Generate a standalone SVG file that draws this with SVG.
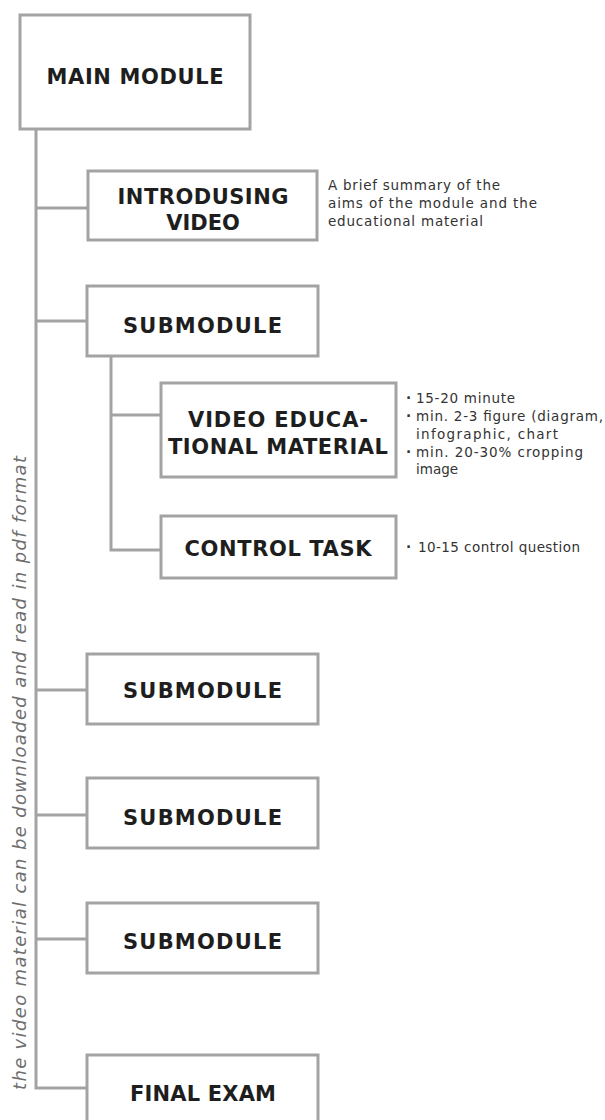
<svg xmlns="http://www.w3.org/2000/svg" width="605" height="1120" viewBox="0 0 605 1120">
<style>
.box{fill:#fff;stroke:#a3a3a3;stroke-width:3}
.conn{fill:none;stroke:#a3a3a3;stroke-width:3}
.t{font-family:"DejaVu Sans","Liberation Sans",sans-serif;font-weight:bold;font-size:21px;fill:#1e1e1e;text-anchor:middle}
.n{font-family:"DejaVu Sans","Liberation Sans",sans-serif;font-size:13.5px;fill:#333}
.b{font-family:"DejaVu Sans","Liberation Sans",sans-serif;font-weight:bold;font-size:13.5px;fill:#333}
.side{font-family:"DejaVu Sans","Liberation Sans",sans-serif;font-style:italic;font-size:18px;fill:#6e6e6e}
</style>
<rect width="605" height="1120" fill="#fff"/>
<g id="connectors">
<path class="conn" d="M36,129 V1088 H87 M36,208 H88 M36,321 H87 M36,690 H87 M36,815 H87 M36,939 H87"/>
<path class="conn" d="M111,356 V550 H161 M111,415 H161"/>
</g>
<g id="main-module">
<rect class="box" x="20" y="15" width="230" height="114"/>
<text class="t" x="135" y="84" textLength="177">MAIN MODULE</text>
</g>
<g id="introducing-video">
<rect class="box" x="88" y="171" width="229" height="69"/>
<text class="t" x="203" y="204" textLength="171">INTRODUSING</text>
<text class="t" x="203" y="230">VIDEO</text>
</g>
<g id="intro-note">
<text class="n" x="328" y="190" textLength="172">A brief summary of the</text>
<text class="n" x="328" y="208" textLength="209">aims of the module and the</text>
<text class="n" x="328" y="226" textLength="155">educational material</text>
</g>
<g id="submodule-1">
<rect class="box" x="87" y="286" width="231" height="70"/>
<text class="t" x="202.5" y="333" textLength="159">SUBMODULE</text>
</g>
<g id="video-educational-material">
<rect class="box" x="161" y="383" width="235" height="94"/>
<text class="t" x="278" y="427" textLength="180">VIDEO EDUCA-</text>
<text class="t" x="278" y="454" textLength="220">TIONAL MATERIAL</text>
</g>
<g id="video-note">
<text class="b" x="406" y="403">·</text><text class="n" x="416" y="403" textLength="99">15-20 minute</text>
<text class="b" x="406" y="421">·</text><text class="n" x="416" y="421" textLength="187">min. 2-3 figure (diagram,</text>
<text class="n" x="416" y="439" textLength="142">infographic, chart</text>
<text class="b" x="406" y="457">·</text><text class="n" x="416" y="457" textLength="167">min. 20-30% cropping</text>
<text class="n" x="416" y="474">image</text>
</g>
<g id="control-task">
<rect class="box" x="161" y="516" width="235" height="62"/>
<text class="t" x="278" y="556" textLength="187">CONTROL TASK</text>
</g>
<g id="control-note">
<text class="b" x="406" y="552">·</text><text class="n" x="418" y="552" textLength="162">10-15 control question</text>
</g>
<g id="submodule-2">
<rect class="box" x="87" y="654" width="231" height="70"/>
<text class="t" x="202.5" y="698" textLength="159">SUBMODULE</text>
</g>
<g id="submodule-3">
<rect class="box" x="87" y="778" width="231" height="70"/>
<text class="t" x="202.5" y="825" textLength="159">SUBMODULE</text>
</g>
<g id="submodule-4">
<rect class="box" x="87" y="903" width="231" height="70"/>
<text class="t" x="202.5" y="949" textLength="159">SUBMODULE</text>
</g>
<g id="final-exam">
<rect class="box" x="87" y="1055" width="231" height="80"/>
<text class="t" x="203" y="1101" textLength="146">FINAL EXAM</text>
</g>
<g id="side-label">
<text class="side" transform="translate(26,1090) rotate(-90)" textLength="634">the video material can be downloaded and read in pdf format</text>
</g>
</svg>
